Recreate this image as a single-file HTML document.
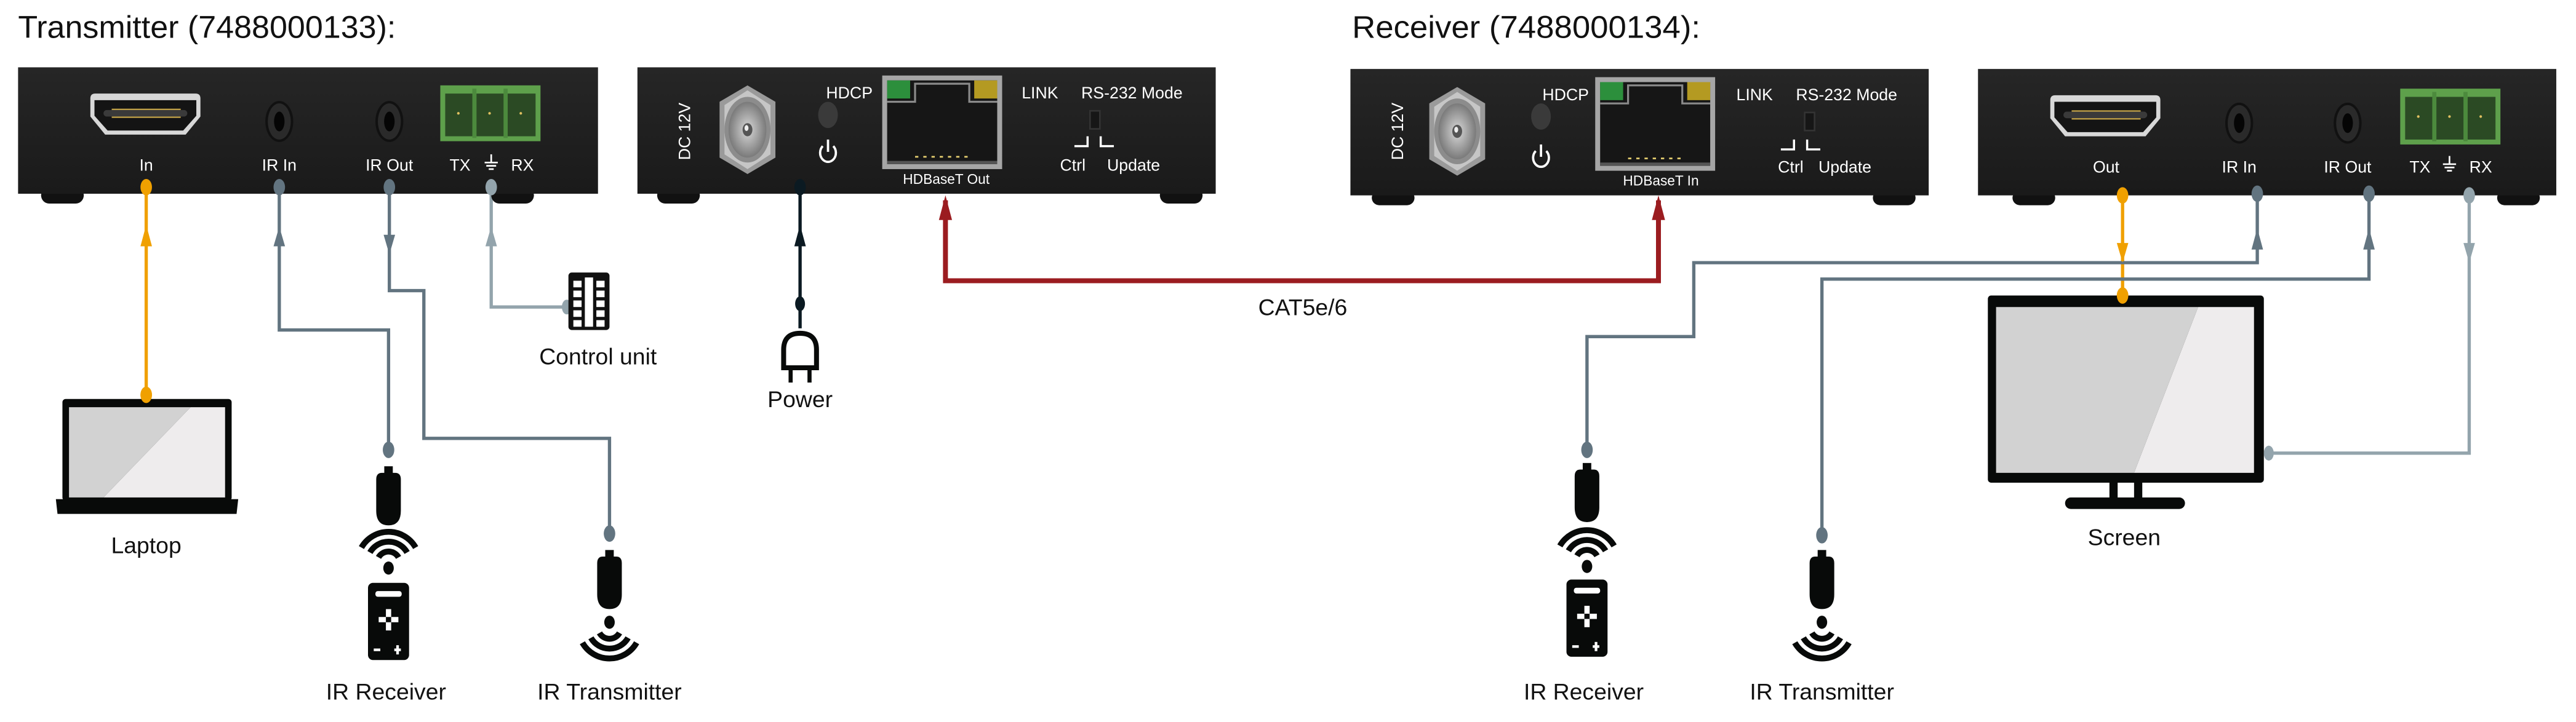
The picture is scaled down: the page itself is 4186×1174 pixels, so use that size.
<!DOCTYPE html>
<html><head><meta charset="utf-8"><style>
html,body{margin:0;padding:0;background:#fff;}
svg{display:block;}
text{font-family:"Liberation Sans",sans-serif;}
</style></head><body>
<svg width="4186" height="1174" viewBox="0 0 1568 439.76" xmlns="http://www.w3.org/2000/svg">
<defs>
<linearGradient id="box" x1="0" y1="0" x2="0" y2="1"><stop offset="0" stop-color="#262626"/><stop offset="1" stop-color="#1a1a1a"/></linearGradient>
<radialGradient id="nut"><stop offset="0" stop-color="#d8d8d8"/><stop offset="1" stop-color="#7a7a7a"/></radialGradient>
<g id="dongle"><rect x="-2.6" y="0" width="5.2" height="5" fill="#080a09"/><path d="M-7.5 8 Q-7.5 4 -4 4 H4 Q7.5 4 7.5 8 V27 Q7.5 36 0 36 Q-7.5 36 -7.5 27 Z" fill="#080a09"/></g>
<g id="remote"><rect x="-12.5" y="0" width="25" height="47" rx="3" fill="#080a09"/><rect x="-8" y="5" width="16" height="3.5" rx="1.5" fill="#fff"/><rect x="-1.6" y="16" width="3.2" height="13" fill="#fff"/><rect x="-6" y="20.8" width="12" height="3.2" fill="#fff"/><rect x="-1.6" y="20.8" width="3.2" height="3.2" fill="#080a09"/><rect x="-9" y="40" width="4" height="1.6" fill="#fff"/><rect x="3.5" y="40" width="4" height="1.6" fill="#fff"/><rect x="4.7" y="38" width="1.6" height="5.6" fill="#fff"/></g>
<g id="wavesUp" fill="none" stroke="#080a09" stroke-width="3.6"><ellipse cx="0" cy="-2" rx="3.2" ry="4" fill="#080a09" stroke="none"/><path d="M-6.1 -8.5 A7 7 0 0 1 6.1 -8.5"/><path d="M-11.3 -11.5 A13 13 0 0 1 11.3 -11.5"/><path d="M-16.5 -14.5 A19 19 0 0 1 16.5 -14.5"/></g>
<g id="wavesDn" fill="none" stroke="#080a09" stroke-width="3.6"><ellipse cx="0" cy="2" rx="3.2" ry="4" fill="#080a09" stroke="none"/><path d="M-6.1 8.5 A7 7 0 0 0 6.1 8.5"/><path d="M-11.3 11.5 A13 13 0 0 0 11.3 11.5"/><path d="M-16.5 14.5 A19 19 0 0 0 16.5 14.5"/></g>
<g id="jack"><ellipse cx="0" cy="0" rx="8.5" ry="12.5" fill="#111"/><ellipse cx="0" cy="0" rx="7" ry="11" fill="#2a2a2a"/><ellipse cx="0" cy="0" rx="3.2" ry="6" fill="#050505"/></g>
<g id="hdmi"><path d="M0 3 Q0 0 3 0 H64 Q67 0 67 3 V14 L58 25 H9 L0 14 Z" fill="#d8d8d8"/><path d="M2.5 4 H64.5 V13.5 L56.5 22.5 H10.5 L2.5 13.5 Z" fill="#141414"/><rect x="8" y="10" width="51" height="4" rx="2" fill="#3a3a3a"/><g fill="#c9a84a"><rect x="13" y="9.2" width="42" height="0.8"/><rect x="13" y="14" width="42" height="0.8"/></g></g>
<g id="term"><rect x="0" y="0" width="61" height="34" fill="#5ea04b"/><g fill="#2b4a24"><rect x="3" y="5" width="17" height="26"/><rect x="22" y="5" width="17" height="26"/><rect x="41" y="5" width="17" height="26"/></g><g fill="#4c8a3d"><rect x="19.5" y="2" width="2.5" height="30"/><rect x="38.5" y="2" width="2.5" height="30"/></g><g fill="#e0c060"><circle cx="11" cy="17" r="0.8"/><circle cx="30" cy="17" r="0.8"/><circle cx="49" cy="17" r="0.8"/></g></g>
<g id="rj"><rect x="0" y="0" width="73" height="57" fill="#a6a6a6"/><path d="M3 3 H70 V54 H3 Z" fill="#161616"/><rect x="3" y="3" width="14" height="11" fill="#2c8f3c"/><rect x="56" y="3" width="14" height="11" fill="#b49a22"/><path d="M3 16 H20 V5 H53 V16 H70" fill="none" stroke="#8a8a8a" stroke-width="1.2"/><g fill="#e8d070"><rect x="20" y="49" width="2" height="1"/><rect x="25" y="49" width="2" height="1"/><rect x="30" y="49" width="2" height="1"/><rect x="35" y="49" width="2" height="1"/><rect x="40" y="49" width="2" height="1"/><rect x="45" y="49" width="2" height="1"/><rect x="50" y="49" width="2" height="1"/></g><rect x="3" y="52" width="67" height="2" fill="#555"/></g>
<g id="barrel"><polygon points="0,-27 17,-17 17,17 0,27 -17,17 -17,-17" fill="#9a9a9a"/><polygon points="0,-24 14,-15 14,15 0,24 -14,15 -14,-15" fill="#c6c6c6"/><ellipse cx="0" cy="0" rx="14" ry="20" fill="#8c8c8c"/><ellipse cx="0" cy="0" rx="11.5" ry="17" fill="url(#nut)"/><ellipse cx="0" cy="0" rx="3" ry="4" fill="#555"/><ellipse cx="-0.6" cy="-1" rx="1.2" ry="1.8" fill="#eee"/></g>
<g id="pwr" fill="none" stroke="#fff" stroke-width="1.4"><path d="M-3.2 -3 A4.8 5.5 0 1 0 3.2 -3"/><line x1="0" y1="-7" x2="0" y2="0.5"/></g>
</defs>

<!-- titles -->
<text x="11" y="23" font-size="19" textLength="230" lengthAdjust="spacingAndGlyphs" fill="#111">Transmitter (7488000133):</text>
<text x="823" y="23" font-size="19" textLength="212" lengthAdjust="spacingAndGlyphs" fill="#111">Receiver (7488000134):</text>

<!-- ===== connectors (drawn first) ===== -->
<g fill="none" stroke-width="2">
 <path d="M89 114 V240" stroke="#f0a000"/>
 <path d="M170 114 V201 H236.5 V274" stroke="#627480"/>
 <path d="M237 114 V177 H258 V267 H371 V325" stroke="#627480"/>
 <path d="M299 114 V187 H343" stroke="#93a4ac"/>
 <path d="M487 114 V200" stroke="#0b1a22"/>
 <path d="M575.5 122 V171 H1009.5 V122" stroke="#9b1c20" stroke-width="3"/>
 <path d="M1292 119 V180" stroke="#f0a000"/>
 <path d="M1374 119 V160 H1031 V205 H966 V274" stroke="#627480"/>
 <path d="M1442 119 V170 H1109 V326" stroke="#627480"/>
 <path d="M1503 119 V276 H1381" stroke="#93a4ac"/>
</g>
<!-- arrowheads -->
<polygon points="89,137 85.5,150 92.5,150" fill="#f0a000"/>
<polygon points="170,138 166.5,150 173.5,150" fill="#627480"/>
<polygon points="237,155 233.5,143 240.5,143" fill="#627480"/>
<polygon points="299,138 295.5,150 302.5,150" fill="#93a4ac"/>
<polygon points="487,137 483.5,150 490.5,150" fill="#0b1a22"/>
<polygon points="575.5,119 571.5,134 579.5,134" fill="#9b1c20"/>
<polygon points="1009.5,119 1005.5,134 1013.5,134" fill="#9b1c20"/>
<polygon points="1292,160 1288.5,148 1295.5,148" fill="#f0a000"/>
<polygon points="1374,139 1370.5,152 1377.5,152" fill="#627480"/>
<polygon points="1442,139 1438.5,152 1445.5,152" fill="#627480"/>
<polygon points="1503,160 1499.5,148 1506.5,148" fill="#93a4ac"/>
<!-- end dots -->
<ellipse cx="89" cy="240.5" rx="3.5" ry="5" fill="#f0a000"/>
<ellipse cx="236.5" cy="274" rx="3.5" ry="5" fill="#627480"/>
<ellipse cx="371" cy="325" rx="3.5" ry="5" fill="#627480"/>
<ellipse cx="345" cy="187" rx="3" ry="4.5" fill="#93a4ac"/>
<ellipse cx="487" cy="185" rx="3" ry="4.5" fill="#0b1a22"/>
<ellipse cx="966" cy="274" rx="3.5" ry="5" fill="#627480"/>
<ellipse cx="1109" cy="326" rx="3.5" ry="5" fill="#627480"/>
<ellipse cx="1292" cy="180" rx="3.5" ry="5" fill="#f0a000"/>
<ellipse cx="1381" cy="276" rx="3" ry="4.5" fill="#93a4ac"/>

<text x="793" y="192" font-size="14" text-anchor="middle" fill="#111">CAT5e/6</text>

<!-- ===== Box 1 ===== -->
<rect x="25" y="114" width="26" height="10" rx="5" fill="#111"/><rect x="299" y="114" width="26" height="10" rx="5" fill="#111"/>
<rect x="11" y="41" width="353" height="77" fill="url(#box)"/>
<use href="#hdmi" x="55" y="57"/>
<use href="#jack" x="170" y="74"/>
<use href="#jack" x="237" y="74"/>
<use href="#term" x="268" y="52"/>
<g fill="#fff" font-size="10" text-anchor="middle">
 <text x="89" y="104">In</text><text x="170" y="104">IR In</text><text x="237" y="104">IR Out</text>
 <text x="280" y="104">TX</text><text x="318" y="104">RX</text>
</g>
<g stroke="#fff" stroke-width="1"><line x1="299" y1="94" x2="299" y2="99"/><line x1="295" y1="99" x2="303" y2="99"/><line x1="296" y1="101" x2="302" y2="101"/><line x1="297.5" y1="103" x2="300.5" y2="103"/></g>
<ellipse cx="89" cy="114" rx="3.5" ry="5" fill="#f0a000"/>
<ellipse cx="170" cy="114" rx="3.5" ry="5" fill="#627480"/>
<ellipse cx="237" cy="114" rx="3.5" ry="5" fill="#627480"/>
<ellipse cx="299" cy="114" rx="3.5" ry="5" fill="#93a4ac"/>

<!-- ===== Box 2 ===== -->
<rect x="400" y="114" width="26" height="10" rx="5" fill="#111"/><rect x="706" y="114" width="26" height="10" rx="5" fill="#111"/>
<rect x="388" y="41" width="352" height="77" fill="url(#box)"/>
<text transform="translate(420,80) rotate(-90)" font-size="10" fill="#fff" text-anchor="middle">DC 12V</text>
<use href="#barrel" x="455" y="79"/>
<text x="517" y="60" font-size="10" fill="#fff" text-anchor="middle">HDCP</text>
<ellipse cx="504" cy="70" rx="6" ry="8" fill="#3a3a3a"/>
<use href="#pwr" x="504" y="92"/>
<use href="#rj" x="537" y="46"/>
<text x="576" y="112" font-size="8.5" fill="#fff" text-anchor="middle">HDBaseT Out</text>
<text x="633" y="60" font-size="10" fill="#fff" text-anchor="middle">LINK</text>
<text x="689" y="60" font-size="10" fill="#fff" text-anchor="middle">RS-232 Mode</text>
<rect x="663" y="67" width="7" height="12" fill="#333"/><rect x="664" y="68" width="5" height="10" fill="#161616"/>
<path d="M654 89 H662 V83 M678 89 H670 V83" stroke="#fff" stroke-width="1.3" fill="none"/>
<text x="653" y="104" font-size="10" fill="#fff" text-anchor="middle">Ctrl</text>
<text x="690" y="104" font-size="10" fill="#fff" text-anchor="middle">Update</text>
<ellipse cx="487" cy="114" rx="3.5" ry="5" fill="#0b1a22"/>

<!-- power plug -->
<path d="M477 213 Q477 203 487 203 Q497 203 497 213 V224 H477 Z" fill="#fff" stroke="#080a09" stroke-width="3"/>
<rect x="480" y="225" width="2.5" height="8" fill="#080a09"/><rect x="491.5" y="225" width="2.5" height="8" fill="#080a09"/>
<text x="487" y="248" font-size="14" text-anchor="middle" fill="#111">Power</text>

<!-- control unit -->
<rect x="346" y="166" width="25" height="35" rx="2" fill="#111"/>
<g fill="#fff"><rect x="349" y="171" width="5" height="4"/><rect x="349" y="177" width="5" height="4"/><rect x="349" y="183" width="5" height="4"/><rect x="349" y="189" width="5" height="4"/><rect x="349" y="195" width="5" height="4"/><rect x="363" y="171" width="5" height="4"/><rect x="363" y="177" width="5" height="4"/><rect x="363" y="183" width="5" height="4"/><rect x="363" y="189" width="5" height="4"/><rect x="363" y="195" width="5" height="4"/><rect x="356" y="169" width="5" height="30"/></g>
<text x="364" y="222" font-size="14" text-anchor="middle" fill="#111">Control unit</text>

<!-- laptop -->
<rect x="38" y="243" width="103" height="62" rx="2" fill="#080a09"/>
<polygon points="42,248 116,248 63,303 42,303" fill="#d2d2d2"/>
<polygon points="116,248 137,248 137,303 63,303" fill="#eeeced"/>
<path d="M34 304 H145 L144 313 H35 Z" fill="#080a09"/>
<ellipse cx="89" cy="240.5" rx="3.5" ry="5" fill="#f0a000"/>
<text x="89" y="337" font-size="14" text-anchor="middle" fill="#111">Laptop</text>

<!-- TX IR receiver -->
<use href="#dongle" x="236.5" y="284"/>
<use href="#wavesUp" x="236.5" y="348"/>
<use href="#remote" x="236.5" y="355"/>
<text x="235" y="426" font-size="14" text-anchor="middle" fill="#111">IR Receiver</text>
<!-- TX IR transmitter -->
<use href="#dongle" x="371" y="335"/>
<use href="#wavesDn" x="371" y="377"/>
<text x="371" y="426" font-size="14" text-anchor="middle" fill="#111">IR Transmitter</text>

<!-- ===== Box 3 ===== -->
<rect x="835" y="116" width="26" height="9" rx="4.5" fill="#111"/><rect x="1140" y="116" width="26" height="9" rx="4.5" fill="#111"/>
<rect x="822" y="42" width="352" height="77" fill="url(#box)"/>
<text transform="translate(854,80) rotate(-90)" font-size="10" fill="#fff" text-anchor="middle">DC 12V</text>
<use href="#barrel" x="887" y="80"/>
<text x="953" y="61" font-size="10" fill="#fff" text-anchor="middle">HDCP</text>
<ellipse cx="938" cy="71" rx="6" ry="8" fill="#3a3a3a"/>
<use href="#pwr" x="938" y="95"/>
<use href="#rj" x="971" y="47"/>
<text x="1011" y="113" font-size="8.5" fill="#fff" text-anchor="middle">HDBaseT In</text>
<text x="1068" y="61" font-size="10" fill="#fff" text-anchor="middle">LINK</text>
<text x="1124" y="61" font-size="10" fill="#fff" text-anchor="middle">RS-232 Mode</text>
<rect x="1098" y="68" width="7" height="12" fill="#333"/><rect x="1099" y="69" width="5" height="10" fill="#161616"/>
<path d="M1084 91 H1092 V85 M1108 91 H1100 V85" stroke="#fff" stroke-width="1.3" fill="none"/>
<text x="1090" y="105" font-size="10" fill="#fff" text-anchor="middle">Ctrl</text>
<text x="1123" y="105" font-size="10" fill="#fff" text-anchor="middle">Update</text>

<!-- ===== Box 4 ===== -->
<rect x="1225" y="116" width="26" height="9" rx="4.5" fill="#111"/><rect x="1520" y="116" width="26" height="9" rx="4.5" fill="#111"/>
<rect x="1204" y="42" width="352" height="77" fill="url(#box)"/>
<use href="#hdmi" x="1248" y="58"/>
<use href="#jack" x="1363" y="75"/>
<use href="#jack" x="1429" y="75"/>
<use href="#term" x="1461" y="54"/>
<g fill="#fff" font-size="10" text-anchor="middle">
 <text x="1282" y="105">Out</text><text x="1363" y="105">IR In</text><text x="1429" y="105">IR Out</text>
 <text x="1473" y="105">TX</text><text x="1510" y="105">RX</text>
</g>
<g stroke="#fff" stroke-width="1"><line x1="1491" y1="95" x2="1491" y2="100"/><line x1="1487" y1="100" x2="1495" y2="100"/><line x1="1488" y1="102" x2="1494" y2="102"/><line x1="1489.5" y1="104" x2="1492.5" y2="104"/></g>
<ellipse cx="1292" cy="119" rx="3.5" ry="5" fill="#f0a000"/>
<ellipse cx="1374" cy="118" rx="3.5" ry="5" fill="#627480"/>
<ellipse cx="1442" cy="118" rx="3.5" ry="5" fill="#627480"/>
<ellipse cx="1503" cy="119" rx="3.5" ry="5" fill="#93a4ac"/>

<!-- screen -->
<rect x="1210" y="180" width="168" height="114" rx="2" fill="#080a09"/>
<polygon points="1215,187 1338,187 1299,288 1215,288" fill="#d2d2d2"/>
<polygon points="1338,187 1372,187 1372,288 1299,288" fill="#eeeced"/>
<rect x="1284" y="293" width="5" height="11" fill="#080a09"/><rect x="1299" y="293" width="5" height="11" fill="#080a09"/>
<rect x="1257" y="303" width="73" height="7" rx="3.5" fill="#080a09"/>
<ellipse cx="1292" cy="180" rx="3.5" ry="5" fill="#f0a000"/>
<ellipse cx="1381" cy="276" rx="3" ry="4.5" fill="#93a4ac"/>
<text x="1293" y="332" font-size="14" text-anchor="middle" fill="#111">Screen</text>

<!-- RX IR receiver -->
<use href="#dongle" x="966" y="282"/>
<use href="#wavesUp" x="966" y="347"/>
<use href="#remote" x="966" y="353"/>
<text x="964" y="426" font-size="14" text-anchor="middle" fill="#111">IR Receiver</text>
<!-- RX IR transmitter -->
<use href="#dongle" x="1109" y="335"/>
<use href="#wavesDn" x="1109" y="377"/>
<text x="1109" y="426" font-size="14" text-anchor="middle" fill="#111">IR Transmitter</text>
</svg>
</body></html>
